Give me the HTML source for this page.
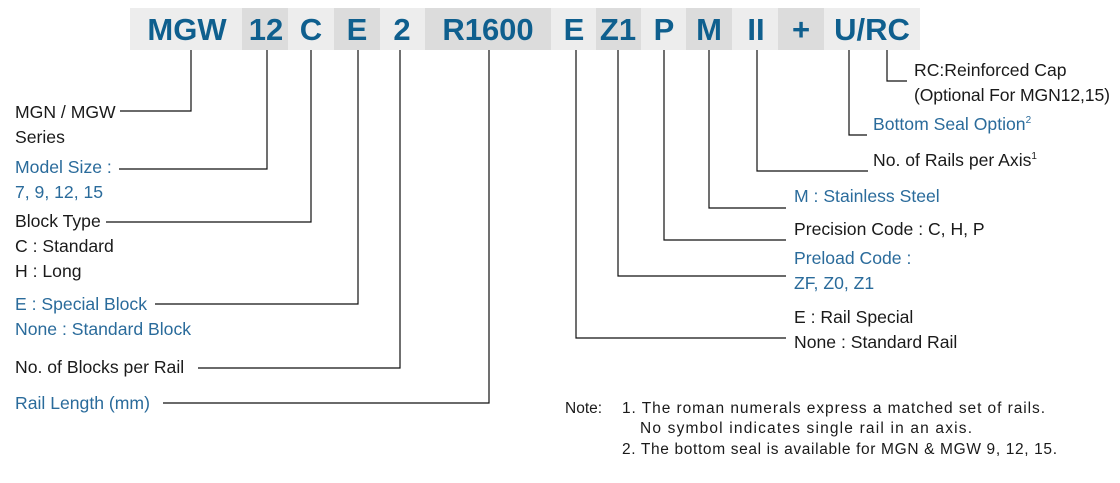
<!DOCTYPE html>
<html><head><meta charset="utf-8"><style>
html,body{margin:0;padding:0;background:#fff;}
svg{display:block;}
text{font-family:"Liberation Sans",sans-serif;}
.h{font-weight:bold;font-size:31px;fill:#0f5f8e;text-anchor:middle;}
.k{font-size:17.6px;fill:#1a1a1a;}
.b{font-size:17.6px;fill:#2a6b9b;}
.n{font-size:15.5px;fill:#1a1a1a;}
</style></head><body>
<svg width="1120" height="483" viewBox="0 0 1120 483">
<g>
<rect x="130" y="8" width="112" height="42" fill="#ededed"/>
<rect x="242" y="8" width="46" height="42" fill="#dcdcdc"/>
<rect x="288" y="8" width="46" height="42" fill="#ededed"/>
<rect x="334" y="8" width="46" height="42" fill="#dcdcdc"/>
<rect x="380" y="8" width="45" height="42" fill="#ededed"/>
<rect x="425" y="8" width="126" height="42" fill="#dcdcdc"/>
<rect x="551" y="8" width="45" height="42" fill="#ededed"/>
<rect x="596" y="8" width="45" height="42" fill="#dcdcdc"/>
<rect x="641" y="8" width="45" height="42" fill="#ededed"/>
<rect x="686" y="8" width="46" height="42" fill="#dcdcdc"/>
<rect x="732" y="8" width="46" height="42" fill="#ededed"/>
<rect x="778" y="8" width="46" height="42" fill="#dcdcdc"/>
<rect x="824" y="8" width="96" height="42" fill="#ededed"/>
</g>
<g>
<text x="187" y="40" class="h">MGW</text>
<text x="266" y="40" class="h">12</text>
<text x="311" y="40" class="h">C</text>
<text x="357" y="40" class="h">E</text>
<text x="402" y="40" class="h">2</text>
<text x="488" y="40" class="h">R1600</text>
<text x="574" y="40" class="h">E</text>
<text x="618" y="40" class="h">Z1</text>
<text x="664" y="40" class="h">P</text>
<text x="709" y="40" class="h">M</text>
<text x="756" y="40" class="h">II</text>
<text x="801" y="40" class="h">+</text>
<text x="872" y="40" class="h">U/RC</text>
</g>
<g stroke="#111" stroke-width="1.2" fill="none">
<polyline points="191,50 191,111 120,111"/>
<polyline points="267,50 267,169 119,169"/>
<polyline points="311,50 311,222 106,222"/>
<polyline points="358,50 358,304 155,304"/>
<polyline points="400,50 400,368 198,368"/>
<polyline points="489,50 489,403 163,403"/>
<polyline points="576,50 576,338 786,338"/>
<polyline points="618,50 618,276 786,276"/>
<polyline points="664,50 664,240 786,240"/>
<polyline points="709,50 709,208 786,208"/>
<polyline points="757,50 757,171 868,171"/>
<polyline points="849,50 849,135 867,135"/>
<polyline points="887,50 887,81 907,81"/>
</g>
<text x="15" y="118" class="k">MGN / MGW</text>
<text x="15" y="143" class="k">Series</text>
<text x="15" y="173" class="b">Model Size :</text>
<text x="15" y="198" class="b">7, 9, 12, 15</text>
<text x="15" y="227" class="k">Block Type</text>
<text x="15" y="252" class="k">C : Standard</text>
<text x="15" y="277" class="k">H : Long</text>
<text x="15" y="310" class="b">E : Special Block</text>
<text x="15" y="335" class="b">None : Standard Block</text>
<text x="15" y="373" class="k">No. of Blocks per Rail</text>
<text x="15" y="409" class="b">Rail Length (mm)</text>

<text x="914" y="76" class="k">RC:Reinforced Cap</text>
<text x="914" y="101" class="k" textLength="196">(Optional For MGN12,15)</text>
<text x="873" y="130" class="b">Bottom Seal Option<tspan font-size="10" dy="-7">2</tspan></text>
<text x="873" y="166" class="k">No. of Rails per Axis<tspan font-size="10" dy="-7">1</tspan></text>
<text x="794" y="202" class="b">M : Stainless Steel</text>
<text x="794" y="235" class="k">Precision Code : C, H, P</text>
<text x="794" y="264" class="b">Preload Code :</text>
<text x="794" y="289" class="b">ZF, Z0, Z1</text>
<text x="794" y="323" class="k">E : Rail Special</text>
<text x="794" y="348" class="k">None : Standard Rail</text>

<text x="565" y="413" class="n">Note:</text>
<text x="622" y="413" class="n" textLength="423">1. The roman numerals express a matched set of rails.</text>
<text x="640" y="433" class="n" textLength="332">No symbol indicates single rail in an axis.</text>
<text x="622" y="454" class="n" textLength="435">2. The bottom seal is available for MGN &amp; MGW 9, 12, 15.</text>
</svg>
</body></html>
